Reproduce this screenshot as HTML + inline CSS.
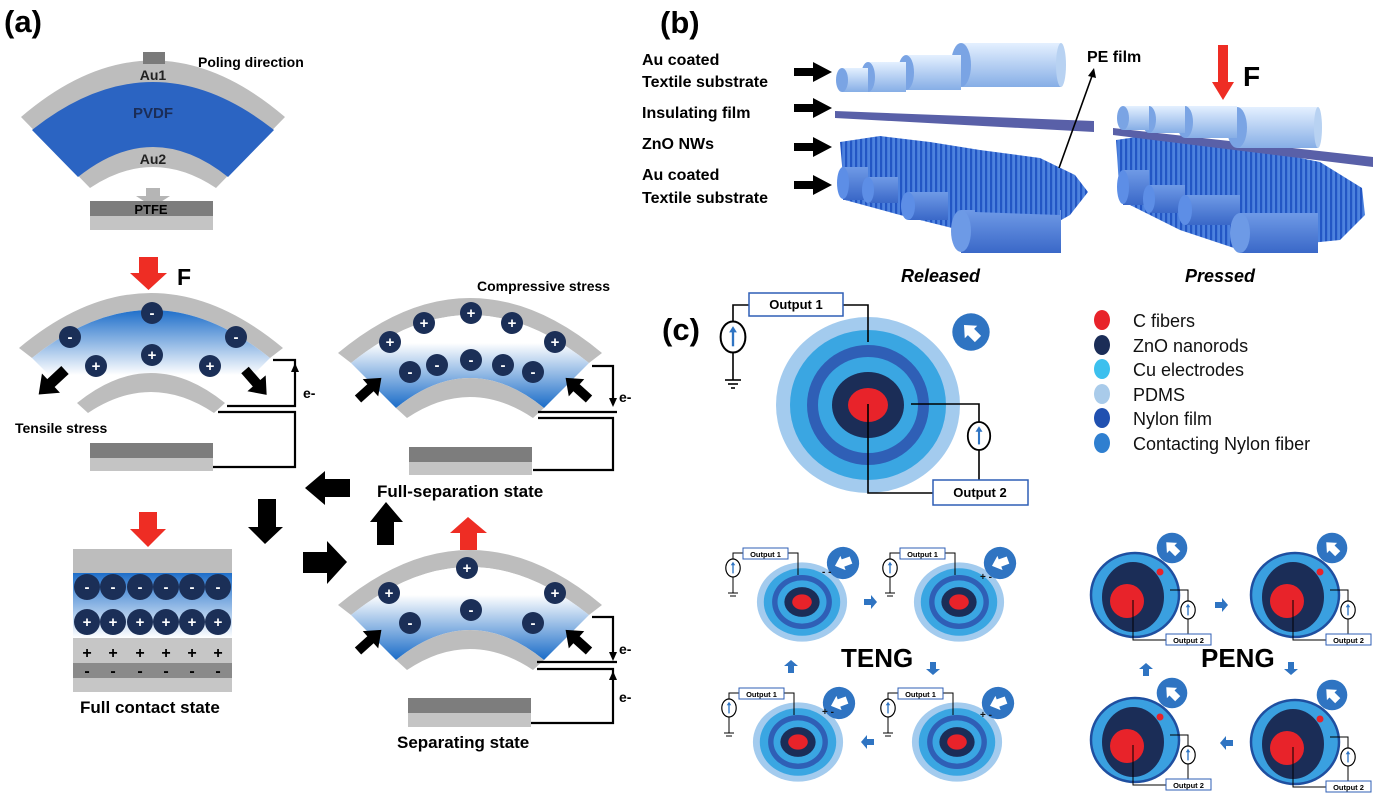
<!DOCTYPE html>
<html><head><meta charset="utf-8"><style>
html,body{margin:0;padding:0;background:#fff;}
svg{display:block;font-family:"Liberation Sans",Arial,sans-serif;}
.b{font-weight:bold;}
</style></head><body>
<svg width="1376" height="793" viewBox="0 0 1376 793" xmlns="http://www.w3.org/2000/svg">
<defs>
<linearGradient id="gT" x1="0" y1="0" x2="0" y2="1"><stop offset="0" stop-color="#1f6fca"/><stop offset="0.7" stop-color="#ffffff"/></linearGradient>
<linearGradient id="gC" x1="0" y1="0" x2="0" y2="1"><stop offset="0.3" stop-color="#ffffff"/><stop offset="1" stop-color="#1a6cc8"/></linearGradient>
<linearGradient id="gF" x1="0" y1="0" x2="0" y2="1"><stop offset="0" stop-color="#1f6fca"/><stop offset="1" stop-color="#ffffff"/></linearGradient>
<linearGradient id="gCyl" x1="0" y1="0" x2="0" y2="1"><stop offset="0" stop-color="#e4f0ff"/><stop offset="1" stop-color="#86aee6"/></linearGradient>
<linearGradient id="gCyl2" x1="0" y1="0" x2="0" y2="1"><stop offset="0" stop-color="#6f9ae6"/><stop offset="1" stop-color="#3a68c8"/></linearGradient>
<pattern id="nw" width="5" height="6" patternUnits="userSpaceOnUse"><rect width="5" height="6" fill="#4d82de"/><rect width="2.2" height="6" fill="#2356c4"/></pattern>
<g id="barr"><polygon points="0,-4.5 16,-4.5 16,-11 30,0 16,11 16,4.5 0,4.5" fill="#000"/></g>
<g id="tgt">
<ellipse rx="92" ry="88" fill="#a3cbee"/><ellipse rx="78" ry="75" fill="#3aa6e2"/><ellipse rx="61" ry="60" fill="#2f5fb6"/><ellipse rx="50" ry="48" fill="#3aa6e2"/><ellipse rx="36" ry="33" fill="#1b2d57"/><ellipse rx="20" ry="17" fill="#e8232a"/>
</g>
<g id="ptgt">
<ellipse rx="44" ry="42" fill="#3aa0e0" stroke="#1f4fa0" stroke-width="2.5"/><ellipse cx="-2" cy="2" rx="31" ry="35" fill="#1b2d57"/><ellipse cx="-8" cy="6" rx="17" ry="17" fill="#e8232a"/>
</g>
<g id="aic"><circle r="17" fill="#2f74c2"/><polygon points="-9,0 0,-8 0,-4 9,-4 9,4 0,4 0,8" fill="#fff"/></g>
<g id="sba"><polygon points="-6,-3 1,-3 1,-7 7,0 1,7 1,3 -6,3" fill="#2f74c2"/></g>
<g id="src"><ellipse rx="8" ry="10" fill="#fff" stroke="#000" stroke-width="1.3"/><line x1="0" y1="6" x2="0" y2="-5" stroke="#2f74c2" stroke-width="1.5"/><polygon points="-2.5,-3 2.5,-3 0,-7" fill="#2f74c2"/></g>
</defs>

<!-- ===== Panel (a) ===== -->
<text x="4" y="32" font-size="31" class="b">(a)</text>
<path d="M21,117 Q153,4 285,117 L216,188 Q153,146 90,188 Z" fill="#bdbdbd"/>
<path d="M32,130 Q153,34 274,130 L228,177 Q153,117 78,177 Z" fill="#2b64c2"/>
<rect x="143" y="52" width="22" height="12" fill="#7a7a7a"/>
<text x="153" y="80" font-size="14" class="b" text-anchor="middle" fill="#222">Au1</text>
<text x="153" y="118" font-size="15" class="b" text-anchor="middle" fill="#1b2d57">PVDF</text>
<text x="153" y="164" font-size="14" class="b" text-anchor="middle" fill="#222">Au2</text>
<text x="198" y="67" font-size="14" class="b">Poling direction</text>
<polygon points="146,188 160,188 160,196 170,196 153,207 136,196 146,196" fill="#b5b5b5"/>
<rect x="90" y="201" width="123" height="15" fill="#7d7d7d"/><rect x="90" y="216" width="123" height="14" fill="#c4c4c4"/>
<text x="151" y="214" font-size="13" class="b" text-anchor="middle">PTFE</text>

<!-- D2 tensile -->
<polygon points="139,257 158,257 158,273 167,273 148.5,290 130,273 139,273" fill="#ee2d24"/>
<text x="177" y="285" font-size="23" class="b">F</text>
<path d="M19,348 Q151,238 283,348 L270,358 Q151,262 32,358 Z" fill="#bdbdbd"/>
<path d="M32,358 Q151,262 270,358 L225,403 Q151,343 77,403 Z" fill="url(#gT)"/>
<path d="M77,403 Q151,343 225,403 L214,413 Q151,371 88,413 Z" fill="#bdbdbd"/>
<g font-size="15" class="b" fill="#fff" text-anchor="middle">
<circle cx="152" cy="313" r="11" fill="#1b2f57"/><text x="152" y="318">-</text>
<circle cx="70" cy="337" r="11" fill="#1b2f57"/><text x="70" y="342">-</text>
<circle cx="236" cy="337" r="11" fill="#1b2f57"/><text x="236" y="342">-</text>
<circle cx="96" cy="366" r="11" fill="#1b2f57"/><text x="96" y="371">+</text>
<circle cx="152" cy="355" r="11" fill="#1b2f57"/><text x="152" y="360">+</text>
<circle cx="210" cy="366" r="11" fill="#1b2f57"/><text x="210" y="371">+</text>
</g>
<use href="#barr" transform="translate(65,370) rotate(137) scale(1.2)"/>
<use href="#barr" transform="translate(245,370) rotate(49) scale(1.1)"/>
<g fill="none" stroke="#000" stroke-width="2.2">
<polyline points="273,360 295,360 295,406 227,406"/>
<polyline points="218,412 295,412 295,467 213,467"/>
</g>
<polygon points="291,372 299,372 295,363" fill="#000"/>
<text x="303" y="398" font-size="14" class="b">e-</text>
<rect x="90" y="443" width="123" height="15" fill="#7d7d7d"/><rect x="90" y="458" width="123" height="13" fill="#c4c4c4"/>
<text x="15" y="433" font-size="14" class="b">Tensile stress</text>

<!-- D3 compressive -->
<text x="477" y="291" font-size="14" class="b">Compressive stress</text>
<path d="M338,353 Q470,243 602,353 L589,363 Q470,267 351,363 Z" fill="#bdbdbd"/>
<path d="M351,363 Q470,267 589,363 L544,408 Q470,348 396,408 Z" fill="url(#gC)"/>
<path d="M396,408 Q470,348 544,408 L533,418 Q470,376 407,418 Z" fill="#bdbdbd"/>
<g font-size="15" class="b" fill="#fff" text-anchor="middle">
<circle cx="390" cy="342" r="11" fill="#1b2f57"/><text x="390" y="347">+</text>
<circle cx="424" cy="323" r="11" fill="#1b2f57"/><text x="424" y="328">+</text>
<circle cx="471" cy="313" r="11" fill="#1b2f57"/><text x="471" y="318">+</text>
<circle cx="512" cy="323" r="11" fill="#1b2f57"/><text x="512" y="328">+</text>
<circle cx="555" cy="342" r="11" fill="#1b2f57"/><text x="555" y="347">+</text>
<circle cx="410" cy="372" r="11" fill="#1b2f57"/><text x="410" y="377">-</text>
<circle cx="437" cy="365" r="11" fill="#1b2f57"/><text x="437" y="370">-</text>
<circle cx="471" cy="360" r="11" fill="#1b2f57"/><text x="471" y="365">-</text>
<circle cx="503" cy="365" r="11" fill="#1b2f57"/><text x="503" y="370">-</text>
<circle cx="533" cy="372" r="11" fill="#1b2f57"/><text x="533" y="377">-</text>
</g>
<use href="#barr" transform="translate(358,399) rotate(-42) scale(1.05)"/>
<use href="#barr" transform="translate(589,399) rotate(-138) scale(1.05)"/>
<g fill="none" stroke="#000" stroke-width="2.2">
<polyline points="592,366 613,366 613,402"/>
<polyline points="538,412 617,412"/>
<polyline points="538,418 613,418 613,470 533,470"/>
</g>
<polygon points="609,398 617,398 613,407" fill="#000"/>
<text x="619" y="402" font-size="14" class="b">e-</text>
<rect x="409" y="447" width="123" height="15" fill="#7d7d7d"/><rect x="409" y="462" width="123" height="13" fill="#c4c4c4"/>
<text x="377" y="497" font-size="17" class="b">Full-separation state</text>

<!-- big black arrows -->
<polygon points="350,479 325,479 325,471 305,488 325,505 325,497 350,497" fill="#000"/>
<polygon points="258,499 276,499 276,527 283,527 265,544 248,527 258,527" fill="#000"/>
<polygon points="303,552 327,552 327,541 347,562 327,584 327,573 303,573" fill="#000"/>
<polygon points="377,545 394,545 394,522 403,522 386,502 370,522 377,522" fill="#000"/>

<!-- full contact -->
<polygon points="139,512 157,512 157,529 166,529 148,547 130,529 139,529" fill="#ee2d24"/>
<rect x="73" y="549" width="159" height="24" fill="#bdbdbd"/>
<rect x="73" y="573" width="159" height="65" fill="url(#gF)"/>
<rect x="73" y="638" width="159" height="25" fill="#c6c6c6"/>
<rect x="73" y="663" width="159" height="15" fill="#8a8a8a"/>
<rect x="73" y="678" width="159" height="14" fill="#c6c6c6"/>
<g font-size="15" class="b" text-anchor="middle">
<g fill="#1b2f57"><circle cx="87" cy="587" r="13"/><circle cx="113" cy="587" r="13"/><circle cx="140" cy="587" r="13"/><circle cx="166" cy="587" r="13"/><circle cx="192" cy="587" r="13"/><circle cx="218" cy="587" r="13"/>
<circle cx="87" cy="622" r="13"/><circle cx="113" cy="622" r="13"/><circle cx="140" cy="622" r="13"/><circle cx="166" cy="622" r="13"/><circle cx="192" cy="622" r="13"/><circle cx="218" cy="622" r="13"/></g>
<g fill="#fff"><text x="87" y="592">-</text><text x="113" y="592">-</text><text x="140" y="592">-</text><text x="166" y="592">-</text><text x="192" y="592">-</text><text x="218" y="592">-</text>
<text x="87" y="627">+</text><text x="113" y="627">+</text><text x="140" y="627">+</text><text x="166" y="627">+</text><text x="192" y="627">+</text><text x="218" y="627">+</text></g>
<g fill="#000" font-size="16"><text x="87" y="658">+</text><text x="113" y="658">+</text><text x="140" y="658">+</text><text x="166" y="658">+</text><text x="192" y="658">+</text><text x="218" y="658">+</text>
<text x="87" y="676">-</text><text x="113" y="676">-</text><text x="140" y="676">-</text><text x="166" y="676">-</text><text x="192" y="676">-</text><text x="218" y="676">-</text></g>
</g>
<text x="80" y="713" font-size="17" class="b">Full contact state</text>

<!-- D4 separating -->
<polygon points="460,550 477,550 477,533 487,533 468,517 450,533 460,533" fill="#ee2d24"/>
<path d="M338,605 Q470,495 602,605 L589,615 Q470,519 351,615 Z" fill="#bdbdbd"/>
<path d="M351,615 Q470,519 589,615 L544,660 Q470,600 396,660 Z" fill="url(#gC)"/>
<path d="M396,660 Q470,600 544,660 L533,670 Q470,628 407,670 Z" fill="#bdbdbd"/>
<g font-size="15" class="b" fill="#fff" text-anchor="middle">
<circle cx="467" cy="568" r="11" fill="#1b2f57"/><text x="467" y="573">+</text>
<circle cx="389" cy="593" r="11" fill="#1b2f57"/><text x="389" y="598">+</text>
<circle cx="555" cy="593" r="11" fill="#1b2f57"/><text x="555" y="598">+</text>
<circle cx="410" cy="623" r="11" fill="#1b2f57"/><text x="410" y="628">-</text>
<circle cx="471" cy="610" r="11" fill="#1b2f57"/><text x="471" y="615">-</text>
<circle cx="533" cy="623" r="11" fill="#1b2f57"/><text x="533" y="628">-</text>
</g>
<use href="#barr" transform="translate(358,651) rotate(-42) scale(1.05)"/>
<use href="#barr" transform="translate(589,651) rotate(-138) scale(1.05)"/>
<g fill="none" stroke="#000" stroke-width="2.2">
<polyline points="592,617 613,617 613,656"/>
<polyline points="537,662 617,662"/>
<polyline points="537,669 613,669 613,723 531,723"/>
</g>
<polygon points="609,652 617,652 613,661" fill="#000"/>
<polygon points="609,680 617,680 613,671" fill="#000"/>
<text x="619" y="654" font-size="14" class="b">e-</text>
<text x="619" y="702" font-size="14" class="b">e-</text>
<rect x="408" y="698" width="123" height="15" fill="#7d7d7d"/><rect x="408" y="713" width="123" height="14" fill="#c4c4c4"/>
<text x="397" y="748" font-size="17" class="b">Separating state</text>

<!-- ===== Panel (b) ===== -->
<text x="660" y="33" font-size="31" class="b">(b)</text>
<g font-size="16" class="b">
<text x="642" y="65">Au coated</text><text x="642" y="87">Textile substrate</text>
<text x="642" y="118">Insulating film</text><text x="642" y="149">ZnO NWs</text>
<text x="642" y="180">Au coated</text><text x="642" y="203">Textile substrate</text>
</g>
<g fill="#000">
<polygon points="794,68 813,68 813,62 832,72 813,82 813,76 794,76"/>
<polygon points="794,104 813,104 813,98 832,108 813,118 813,112 794,112"/>
<polygon points="794,143 813,143 813,137 832,147 813,157 813,151 794,151"/>
<polygon points="794,181 813,181 813,175 832,185 813,195 813,189 794,189"/>
</g>
<!-- released top cylinders -->
<g>
<rect x="961" y="43" width="100" height="44" fill="url(#gCyl)"/><ellipse cx="1061" cy="65" rx="5" ry="22" fill="#b8d2f2"/><ellipse cx="961" cy="65" rx="10" ry="22" fill="#7aa4e4"/>
<rect x="906" y="55" width="55" height="35" fill="url(#gCyl)"/><ellipse cx="906" cy="72.5" rx="8" ry="17.5" fill="#7aa4e4"/>
<rect x="868" y="62" width="38" height="30" fill="url(#gCyl)"/><ellipse cx="868" cy="77" rx="7" ry="15" fill="#7aa4e4"/>
<rect x="842" y="68" width="26" height="24" fill="url(#gCyl)"/><ellipse cx="842" cy="80" rx="6" ry="12" fill="#7aa4e4"/>
</g>
<polygon points="835,111 1094,121 1094,132 835,118" fill="#5960a8"/>
<!-- released NWs -->
<polygon points="840,142 880,136 930,142 980,150 1040,158 1075,175 1088,192 1070,215 1040,232 960,230 900,215 845,200" fill="url(#nw)"/>
<g>
<rect x="843" y="167" width="25" height="33" fill="url(#gCyl2)"/><ellipse cx="843" cy="183" rx="6" ry="16" fill="#5d8ee6"/>
<rect x="868" y="177" width="30" height="26" fill="url(#gCyl2)"/><ellipse cx="868" cy="190" rx="6" ry="13" fill="#5d8ee6"/>
<rect x="908" y="192" width="40" height="28" fill="url(#gCyl2)"/><ellipse cx="908" cy="206" rx="7" ry="14" fill="#5d8ee6"/>
<rect x="961" y="210" width="100" height="43" fill="url(#gCyl2)"/><ellipse cx="961" cy="231" rx="10" ry="21" fill="#6d9ae6"/>
</g>
<polygon points="975,200 1060,205 1060,215 975,212" fill="url(#nw)"/>
<text x="1087" y="62" font-size="16" class="b">PE film</text>
<line x1="1059" y1="168" x2="1092" y2="76" stroke="#000" stroke-width="1.6"/>
<polygon points="1088,76 1096,78 1094,68" fill="#000"/>
<!-- pressed -->
<polygon points="1218,45 1228,45 1228,82 1234,82 1223,100 1212,82 1218,82" fill="#ee2d24"/>
<text x="1243" y="86" font-size="28" class="b">F</text>
<polygon points="1116,140 1150,135 1200,142 1260,150 1320,162 1362,188 1365,215 1340,240 1240,250 1180,230 1120,200" fill="url(#nw)"/>
<g>
<rect x="1123" y="170" width="26" height="35" fill="url(#gCyl2)"/><ellipse cx="1123" cy="187" rx="6" ry="17" fill="#5d8ee6"/>
<rect x="1149" y="185" width="36" height="28" fill="url(#gCyl2)"/><ellipse cx="1149" cy="199" rx="6" ry="14" fill="#5d8ee6"/>
<rect x="1185" y="195" width="55" height="30" fill="url(#gCyl2)"/><ellipse cx="1185" cy="210" rx="7" ry="15" fill="#5d8ee6"/>
<rect x="1240" y="213" width="78" height="40" fill="url(#gCyl2)"/><ellipse cx="1240" cy="233" rx="10" ry="20" fill="#6d9ae6"/>
</g>
<polygon points="1113,128 1373,157 1373,167 1113,135" fill="#5960a8"/>
<g>
<rect x="1237" y="107" width="81" height="41" fill="url(#gCyl)"/><ellipse cx="1318" cy="127.5" rx="4" ry="20.5" fill="#b8d2f2"/><ellipse cx="1237" cy="127.5" rx="10" ry="20.5" fill="#7aa4e4"/>
<rect x="1185" y="106" width="52" height="32" fill="url(#gCyl)"/><ellipse cx="1185" cy="122" rx="8" ry="16" fill="#7aa4e4"/>
<rect x="1149" y="106" width="36" height="27" fill="url(#gCyl)"/><ellipse cx="1149" cy="119.5" rx="7" ry="13.5" fill="#7aa4e4"/>
<rect x="1123" y="106" width="26" height="24" fill="url(#gCyl)"/><ellipse cx="1123" cy="118" rx="6" ry="12" fill="#7aa4e4"/>
</g>
<text x="901" y="282" font-size="18" class="b" font-style="italic">Released</text>
<text x="1185" y="282" font-size="18" class="b" font-style="italic">Pressed</text>

<!-- ===== Panel (c) ===== -->
<text x="662" y="340" font-size="31" class="b">(c)</text>
<use href="#tgt" transform="translate(868,405)"/>
<use href="#aic" transform="translate(971,332) rotate(45) scale(1.1)"/>
<g fill="none" stroke="#000" stroke-width="1.6">
<polyline points="749,305 733,305 733,380"/>
<polyline points="843,305 868,305 868,342"/>
<line x1="725" y1="380" x2="741" y2="380"/><line x1="728" y1="384" x2="738" y2="384"/><line x1="731" y1="388" x2="735" y2="388"/>
<polyline points="868,404 868,493 933,493"/>
<polyline points="911,404 979,404 979,480"/>
</g>
<use href="#src" transform="translate(733,337) scale(1.55)"/>
<use href="#src" transform="translate(979,436) scale(1.4)"/>
<rect x="749" y="293" width="94" height="23" fill="#fff" stroke="#2f5fb6" stroke-width="1.5"/>
<text x="796" y="309" font-size="13" class="b" text-anchor="middle">Output 1</text>
<rect x="933" y="480" width="95" height="25" fill="#fff" stroke="#2f5fb6" stroke-width="1.5"/>
<text x="980" y="497" font-size="13" class="b" text-anchor="middle">Output 2</text>
<!-- legend -->
<ellipse cx="1102" cy="320" rx="8" ry="10" fill="#e8232a"/>
<ellipse cx="1102" cy="345" rx="8" ry="10" fill="#1b2d57"/>
<ellipse cx="1102" cy="369" rx="8" ry="10" fill="#3cc0ee"/>
<ellipse cx="1102" cy="394" rx="8" ry="10" fill="#a9cbea"/>
<ellipse cx="1102" cy="418" rx="8" ry="10" fill="#2050b0"/>
<ellipse cx="1102" cy="443" rx="8" ry="10" fill="#2f7fd0"/>
<g font-size="18" fill="#111">
<text x="1133" y="327">C fibers</text><text x="1133" y="352">ZnO nanorods</text><text x="1133" y="376">Cu electrodes</text>
<text x="1133" y="401">PDMS</text><text x="1133" y="425">Nylon film</text><text x="1133" y="450">Contacting Nylon fiber</text>
</g>

<!-- TENG -->
<g id="t1">
<use href="#tgt" transform="translate(802,602) scale(0.49,0.45)"/>
<polyline points="743,553 733,553 733,593" fill="none" stroke="#000" stroke-width="1"/>
<polyline points="788,553 798,553 798,575" fill="none" stroke="#000" stroke-width="1"/>
<line x1="728" y1="593" x2="738" y2="593" stroke="#000"/><line x1="730" y1="596" x2="736" y2="596" stroke="#000"/>
<use href="#src" transform="translate(733,568) scale(0.9)"/>
<rect x="743" y="548" width="45" height="11" fill="#fff" stroke="#2f5fb6" stroke-width="1"/>
<text x="765.5" y="557" font-size="7.5" class="b" text-anchor="middle">Output 1</text>
<use href="#aic" transform="translate(843,563) rotate(-20) scale(0.95)"/>
</g>
<use href="#t1" transform="translate(157,0)"/>
<use href="#t1" transform="translate(-4,140)"/>
<use href="#t1" transform="translate(155,140)"/>
<g font-size="10" class="b" fill="#111"><text x="822" y="575">- -</text><text x="980" y="580">+ -</text><text x="822" y="715">+ -</text><text x="980" y="718">+ -</text></g>
<use href="#sba" transform="translate(870,602)"/>
<use href="#sba" transform="translate(933,668) rotate(90)"/>
<use href="#sba" transform="translate(868,742) rotate(180)"/>
<use href="#sba" transform="translate(791,667) rotate(-90)"/>
<text x="841" y="667" font-size="26" class="b">TENG</text>

<!-- PENG -->
<g id="p1">
<use href="#ptgt" transform="translate(1135,595)"/>
<polyline points="1133,600 1133,640 1166,640" fill="none" stroke="#000" stroke-width="1"/>
<polyline points="1170,590 1188,590 1188,635" fill="none" stroke="#000" stroke-width="1"/>
<use href="#src" transform="translate(1188,610) scale(0.9)"/>
<rect x="1166" y="634" width="45" height="11" fill="#fff" stroke="#2f5fb6" stroke-width="1"/>
<text x="1188.5" y="643" font-size="7.5" class="b" text-anchor="middle">Output 2</text>
<use href="#aic" transform="translate(1172,548) rotate(45) scale(0.9)"/>
<circle cx="1160" cy="572" r="3.5" fill="#e8232a"/>
</g>
<use href="#p1" transform="translate(160,0)"/>
<use href="#p1" transform="translate(0,145)"/>
<use href="#p1" transform="translate(160,147)"/>
<use href="#sba" transform="translate(1221,605)"/>
<use href="#sba" transform="translate(1291,668) rotate(90)"/>
<use href="#sba" transform="translate(1227,743) rotate(180)"/>
<use href="#sba" transform="translate(1146,670) rotate(-90)"/>
<text x="1201" y="667" font-size="26" class="b">PENG</text>
</svg>
</body></html>
